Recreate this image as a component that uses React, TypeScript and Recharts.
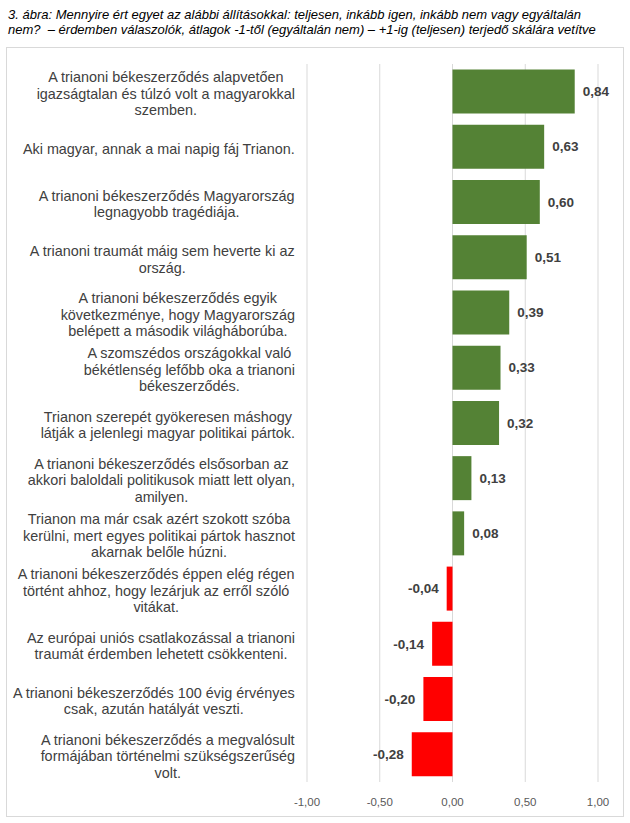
import React from 'react';
import { BarChart, Bar, XAxis, YAxis, CartesianGrid, LabelList, Cell } from 'recharts';

// statements, already broken into lines the way the original wraps them
const statements: string[][] = [
  ['A trianoni békeszerződés alapvetően', 'igazságtalan és túlzó volt a magyarokkal', 'szemben.'],
  ['Aki magyar, annak a mai napig fáj Trianon.'],
  ['A trianoni békeszerződés Magyarország', 'legnagyobb tragédiája.'],
  ['A trianoni traumát máig sem heverte ki az', 'ország.'],
  ['A trianoni békeszerződés egyik', 'következménye, hogy Magyarország', 'belépett a második világháborúba.'],
  ['A szomszédos országokkal való', 'békétlenség lefőbb oka a trianoni', 'békeszerződés.'],
  ['Trianon szerepét gyökeresen máshogy', 'látják a jelenlegi magyar politikai pártok.'],
  ['A trianoni békeszerződés elsősorban az', 'akkori baloldali politikusok miatt lett olyan,', 'amilyen.'],
  ['Trianon ma már csak azért szokott szóba', 'kerülni, mert egyes politikai pártok hasznot', 'akarnak belőle húzni.'],
  ['A trianoni békeszerződés éppen elég régen', 'történt ahhoz, hogy lezárjuk az erről szóló', 'vitákat.'],
  ['Az európai uniós csatlakozással a trianoni', 'traumát érdemben lehetett csökkenteni.'],
  ['A trianoni békeszerződés 100 évig érvényes', 'csak, azután hatályát veszti.'],
  ['A trianoni békeszerződés a megvalósult', 'formájában történelmi szükségszerűség', 'volt.'],
];

const averages = [0.84, 0.63, 0.6, 0.51, 0.39, 0.33, 0.32, 0.13, 0.08, -0.04, -0.14, -0.2, -0.28];

const xTicks = [-1, -0.5, 0, 0.5, 1];

const data = statements.map((lines, i) => ({ name: lines.join(' '), value: averages[i] }));

const FONT = '"Liberation Sans", Arial, sans-serif';
const LABEL_SIZE = 14.4;
const fmt = (v: number) => v.toFixed(2).replace('.', ',');

let ctx: CanvasRenderingContext2D | null = null;
function textWidth(s: string) {
  if (!ctx) ctx = document.createElement('canvas').getContext('2d');
  if (!ctx) return s.length * 7;
  ctx.font = `${LABEL_SIZE}px "Liberation Sans", Arial, sans-serif`;
  return ctx.measureText(s).width;
}

// labels are centred on their own block, blocks pushed right against the plot
function StatementTick(props: any) {
  const { y, index } = props;
  const lines = statements[index] ?? [];
  const w = Math.max(...lines.map(textWidth));
  const cx = 288 - w / 2;
  const lh = 16.5;
  const top = y - ((lines.length - 1) * lh) / 2 + 2;
  return (
    <text x={cx} y={top} textAnchor="middle" fill="#404040" fontSize={LABEL_SIZE} fontFamily={FONT}>
      {lines.map((l, k) => (
        <tspan key={k} x={cx} y={top + k * lh} dy="0.35em">
          {l}
        </tspan>
      ))}
    </text>
  );
}

function ValueLabel(props: any) {
  const { x, y, width, height, value } = props;
  const left = Math.min(x, x + width);
  const right = Math.max(x, x + width);
  const neg = value < 0;
  return (
    <text
      x={neg ? left - 8 : right + 8}
      y={y + height / 2}
      dy="0.35em"
      textAnchor={neg ? 'end' : 'start'}
      fontSize={13.5}
      fontWeight="bold"
      fill="#404040"
      fontFamily={FONT}
    >
      {fmt(value)}
    </text>
  );
}

export default function App() {
  return (
    <div style={{ position: 'absolute', left: 0, top: 0, width: 630, height: 823, background: '#fff' }}>
      <div
        style={{
          position: 'absolute',
          left: 8,
          top: 7,
          fontFamily: FONT,
          fontStyle: 'italic',
          fontSize: 13,
          lineHeight: '15px',
          color: '#000',
          whiteSpace: 'nowrap',
        }}
      >
        3. ábra: Mennyire ért egyet az alábbi állításokkal: teljesen, inkább igen, inkább nem vagy egyáltalán
        <br />
        nem?&nbsp; – érdemben válaszolók, átlagok -1-től (egyáltalán nem) – +1-ig (teljesen) terjedő skálára vetítve
      </div>
      <div
        style={{
          position: 'absolute',
          left: 6,
          top: 47,
          width: 618,
          height: 770,
          boxSizing: 'border-box',
          border: '1px solid #d9d9d9',
        }}
      >
        <BarChart
          width={616}
          height={768}
          data={data}
          layout="vertical"
          barCategoryGap="10%"
          margin={{ top: 16, right: 25, bottom: 0, left: 0 }}
        >
          <CartesianGrid horizontal={false} stroke="#d9d9d9" />
          <XAxis
            type="number"
            domain={[-1, 1]}
            ticks={xTicks}
            tickFormatter={fmt}
            axisLine={false}
            tickLine={false}
            tickMargin={10}
            height={34}
            tick={{ fill: '#595959', fontSize: 11.5, fontFamily: FONT }}
          />
          <YAxis
            type="category"
            dataKey="name"
            width={300}
            axisLine={false}
            tickLine={false}
            interval={0}
            tick={<StatementTick />}
          />
          <Bar dataKey="value" isAnimationActive={false}>
            {data.map((d, i) => (
              <Cell key={`cell-${i}`} fill={d.value < 0 ? '#ff0000' : '#548235'} />
            ))}
            <LabelList dataKey="value" content={<ValueLabel />} />
          </Bar>
        </BarChart>
      </div>
    </div>
  );
}
